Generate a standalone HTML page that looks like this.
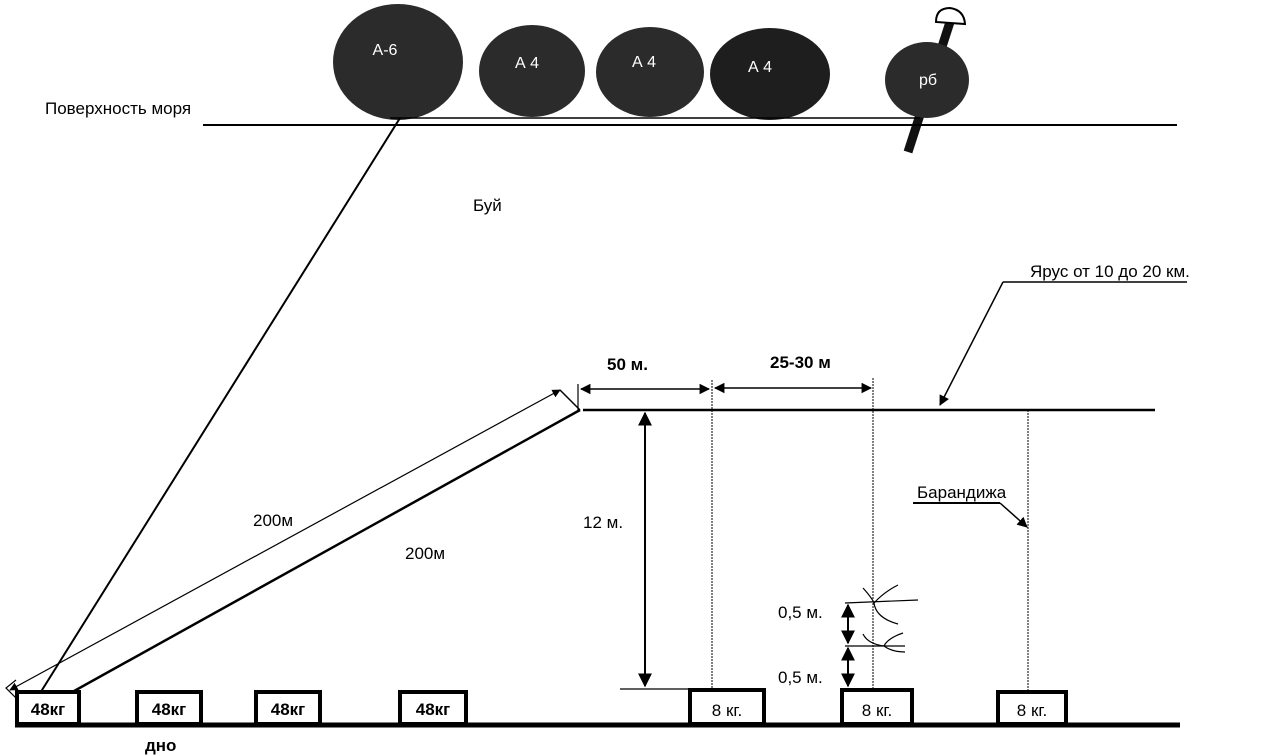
<!DOCTYPE html>
<html><head><meta charset="utf-8"><style>
html,body{margin:0;padding:0;background:#fff;}
svg{display:block;font-family:"Liberation Sans",sans-serif;}
</style></head><body>
<svg width="1274" height="756" viewBox="0 0 1274 756" xmlns="http://www.w3.org/2000/svg">
<defs>
<marker id="ar" viewBox="0 0 10 10" refX="9" refY="5" markerWidth="7" markerHeight="7" orient="auto-start-reverse"><path d="M0,0L10,5L0,10z" fill="#000"/></marker>
</defs>
<!-- buoys -->
<ellipse cx="398" cy="62" rx="65" ry="58" fill="#2b2b2b"/>
<ellipse cx="532" cy="71" rx="53" ry="46" fill="#2b2b2b"/>
<ellipse cx="650" cy="72" rx="54" ry="45" fill="#2b2b2b"/>
<ellipse cx="770" cy="74" rx="60" ry="46" fill="#1e1e1e"/>
<line x1="950" y1="22" x2="908" y2="152" stroke="#111" stroke-width="9"/>
<ellipse cx="927" cy="80" rx="42" ry="38" fill="#2b2b2b"/>
<path d="M936,22 Q936,8 950,8 Q964,10 965,24 Z" fill="#fff" stroke="#000" stroke-width="2"/>
<g fill="#fff" font-size="16" text-anchor="middle">
<text x="385" y="55">А-6</text><text x="527" y="68">А 4</text><text x="644" y="67">А 4</text><text x="760" y="72">А 4</text><text x="928" y="85">рб</text>
</g>
<!-- surface -->
<line x1="390" y1="118" x2="920" y2="118" stroke="#000" stroke-width="1.5"/>
<line x1="203" y1="125" x2="1177" y2="125" stroke="#000" stroke-width="2"/>
<text x="45" y="114" font-size="17">Поверхность моря</text>
<text x="473" y="211" font-size="17">Буй</text>
<!-- buoy rope -->
<line x1="400" y1="118" x2="22" y2="722" stroke="#000" stroke-width="2"/>
<!-- 200m ropes -->
<line x1="10" y1="690" x2="560" y2="390" stroke="#000" stroke-width="1.2" marker-start="url(#ar)" marker-end="url(#ar)"/>
<line x1="22" y1="720" x2="580" y2="410" stroke="#000" stroke-width="2.5"/>
<line x1="560" y1="390" x2="580" y2="410" stroke="#000" stroke-width="1.5"/>
<path d="M16,680 L6,688 L18,700" fill="none" stroke="#000" stroke-width="1.2"/>
<text x="253" y="526" font-size="17">200м</text>
<text x="405" y="559" font-size="17">200м</text>
<!-- longline -->
<line x1="583" y1="410" x2="1155" y2="410" stroke="#000" stroke-width="2.5"/>
<line x1="578" y1="384" x2="578" y2="410" stroke="#000" stroke-width="1.2"/>
<line x1="712" y1="380" x2="712" y2="690" stroke="#000" stroke-width="1" stroke-dasharray="2,1"/>
<line x1="873" y1="378" x2="873" y2="690" stroke="#000" stroke-width="1" stroke-dasharray="2,1"/>
<line x1="1028" y1="410" x2="1028" y2="690" stroke="#000" stroke-width="1" stroke-dasharray="2,1"/>
<line x1="581" y1="389" x2="709" y2="389" stroke="#000" stroke-width="1.5" marker-start="url(#ar)" marker-end="url(#ar)"/>
<line x1="715" y1="388" x2="871" y2="388" stroke="#000" stroke-width="1.5" marker-start="url(#ar)" marker-end="url(#ar)"/>
<text x="607" y="370" font-size="17" font-weight="bold">50 м.</text>
<text x="770" y="368" font-size="17" font-weight="bold">25-30 м</text>
<!-- 12 m -->
<line x1="645" y1="413" x2="645" y2="686" stroke="#000" stroke-width="2" marker-start="url(#ar)" marker-end="url(#ar)"/>
<line x1="620" y1="689" x2="690" y2="689" stroke="#000" stroke-width="1.2"/>
<text x="583" y="528" font-size="17">12 м.</text>
<!-- Ярус -->
<text x="1030" y="277" font-size="17">Ярус от 10 до 20 км.</text>
<line x1="1003" y1="282" x2="1187" y2="282" stroke="#000" stroke-width="1.5"/>
<line x1="1003" y1="282" x2="940" y2="405" stroke="#000" stroke-width="1.5" marker-end="url(#ar)"/>
<!-- Барандижа -->
<text x="917" y="498" font-size="17">Барандижа</text>
<line x1="913" y1="503" x2="1000" y2="503" stroke="#000" stroke-width="2"/>
<line x1="1000" y1="503" x2="1027" y2="527" stroke="#000" stroke-width="1.5" marker-end="url(#ar)"/>
<!-- hooks -->
<line x1="845" y1="603" x2="918" y2="600" stroke="#000" stroke-width="1.2"/>
<line x1="845" y1="646" x2="905" y2="646" stroke="#000" stroke-width="1.2"/>
<path d="M863,588 Q872,598 874,603 Q884,592 898,585 M874,603 Q876,618 898,624 M863,634 Q868,644 884,646 Q888,638 903,633 M884,646 Q892,652 905,652" fill="none" stroke="#000" stroke-width="1.2"/>
<line x1="848" y1="605" x2="848" y2="643" stroke="#000" stroke-width="2" marker-start="url(#ar)" marker-end="url(#ar)"/>
<line x1="848" y1="648" x2="848" y2="686" stroke="#000" stroke-width="2" marker-start="url(#ar)" marker-end="url(#ar)"/>
<text x="778" y="618" font-size="17">0,5 м.</text>
<text x="778" y="683" font-size="17">0,5 м.</text>
<!-- bottom -->
<line x1="15" y1="725" x2="1180" y2="725" stroke="#000" stroke-width="5"/>
<g fill="#fff" stroke="#000" stroke-width="4">
<rect x="17" y="692" width="62" height="32"/>
<rect x="137" y="692" width="64" height="32"/>
<rect x="256" y="692" width="64" height="32"/>
<rect x="400" y="692" width="66" height="32"/>
<rect x="690" y="690" width="74" height="34"/>
<rect x="842" y="690" width="70" height="34"/>
<rect x="998" y="692" width="68" height="32"/>
</g>
<g font-size="17" font-weight="bold" text-anchor="middle">
<text x="48" y="715">48кг</text><text x="169" y="715">48кг</text><text x="288" y="715">48кг</text><text x="433" y="715">48кг</text>
<text x="727" y="716" font-weight="normal">8 кг.</text><text x="877" y="716" font-weight="normal">8 кг.</text><text x="1032" y="716" font-weight="normal">8 кг.</text>
</g>
<text x="145" y="751" font-size="17" font-weight="bold">дно</text>
</svg>
</body></html>
